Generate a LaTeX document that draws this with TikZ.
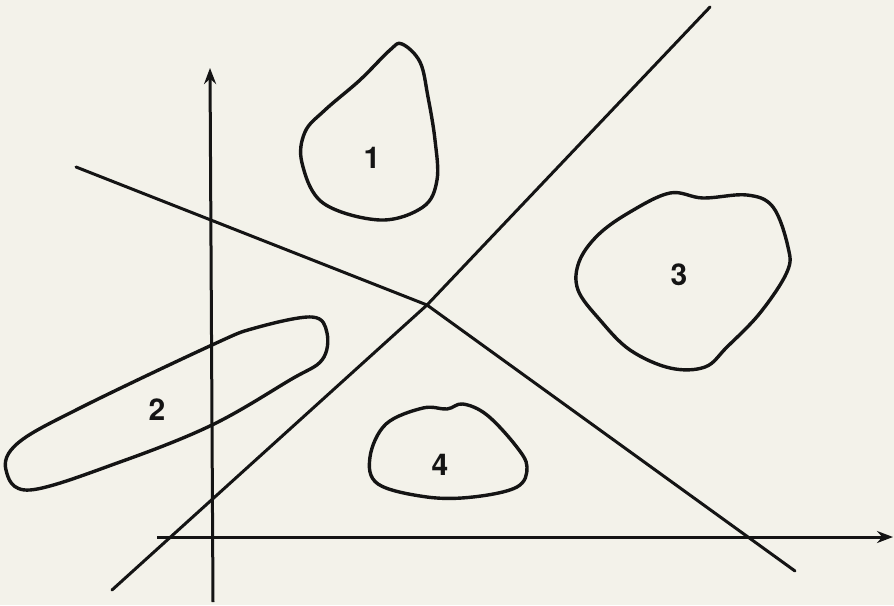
\documentclass[tikz,border=0pt]{standalone}
\usepackage{fontspec}
\setmainfont{TeX Gyre Heros}
\usetikzlibrary{arrows.meta}
\definecolor{paper}{HTML}{F3F2EA}
\definecolor{ink}{HTML}{141414}
\begin{document}
\begin{tikzpicture}[x=1pt,y=-1pt,
  ln/.style={draw=ink,line width=3pt,line cap=round,line join=round},
  ax/.style={draw=ink,line width=3pt,-{Stealth[length=16pt,width=12pt]}},
  blob/.style={draw=ink,line width=3.4pt,line join=round},
  lab/.style={font=\fontsize{30}{30}\selectfont\bfseries,text=ink,inner sep=0pt}]
\fill[paper] (0,0) rectangle (894,605);
\useasboundingbox (0,0) rectangle (894,605);
% axes
\coordinate (ybot) at (213,602);
\coordinate (ytop) at (210,68);
\coordinate (xleft) at (157,537);
\coordinate (xright) at (893,537);
\draw[ax] (ybot) -- (ytop);
\draw[ax] (xleft) -- (xright);
% crossing point of lines
\coordinate (c) at (427,305);
% rising line
\coordinate (r1) at (112,590);
\coordinate (r2) at (710,7);
\draw[ln] (r1) -- (c) -- (r2);
% kinked line
\coordinate (k1) at (76,167);
\coordinate (k2) at (795,571);
\draw[ln] (k1) -- (c) -- (k2);
% blob 1
\draw[blob] plot[smooth cycle,tension=0.6] coordinates {
 (402,44) (420,62) (428,97) (435,140) (437,180) (423,207) (380,220)
 (323,203) (302,163) (305,132) (325,110) (360,80) (390,50)};
\node[lab] (n1) at (372,158) {1};
% blob 3
\draw[blob] plot[smooth cycle,tension=0.6] coordinates {
 (670,193) (703,198) (747,195) (773,207) (788,247) (787,272) (760,313)
 (727,347) (705,367) (670,368) (630,350) (600,320) (578,290) (579,262)
 (598,235) (630,212)};
\node[lab] (n3) at (679,275) {3};
% blob 2
\draw[blob] plot[smooth cycle,tension=0.6] coordinates {
 (312,317) (327,333) (322,360) (290,380) (212,425) (120,462) (30,490)
 (6,470) (18,443) (80,408) (212,345) (255,328)};
\node[lab] (n2) at (157,410) {2};
% blob 4
\draw[blob] plot[smooth cycle,tension=0.6] coordinates {
 (463,404) (487,415) (516,446) (527,467) (517,487) (473,497) (427,497)
 (378,484) (370,457) (386,424) (423,408) (447,409)};
\node[lab] (n4) at (440,465) {4};
\end{tikzpicture}
\end{document}
